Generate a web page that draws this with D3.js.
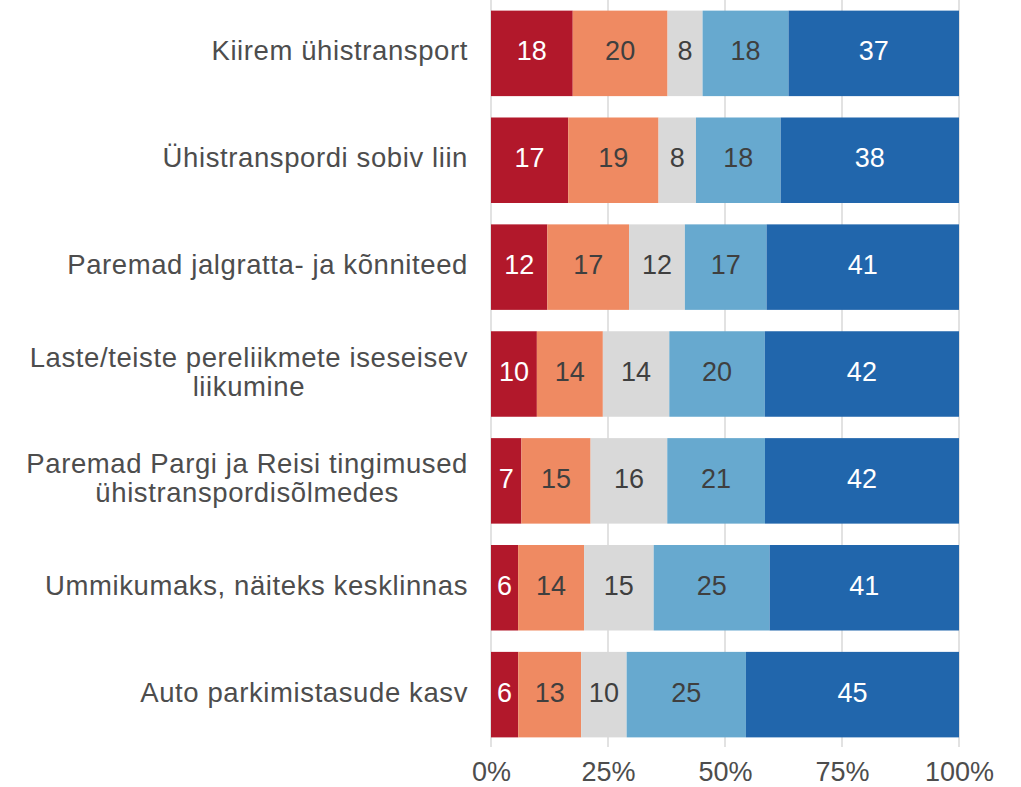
<!DOCTYPE html>
<html>
<head>
<meta charset="utf-8">
<script src="https://cdn.jsdelivr.net/npm/d3@7"></script>
<style>
    body { margin: 0; background: #fff; }
    svg { display: block; font-family: "Liberation Sans", Arial, sans-serif; }
</style>
</head>
<body>
<svg id="chart" width="1021" height="787"></svg>
<script>
// categories, top to bottom
const categories = [
    'Kiirem ühistransport',
    'Ühistranspordi sobiv liin',
    'Paremad jalgratta- ja kõnniteed',
    'Laste/teiste pereliikmete iseseisev\nliikumine',
    'Paremad Pargi ja Reisi tingimused\nühistranspordisõlmedes',
    'Ummikumaks, näiteks kesklinnas',
    'Auto parkimistasude kasv'
];

// shares per answer level (percent), left to right
const red       = [17.5, 16.5, 12.0,  9.8,  6.5,  5.8,  5.8];
const orange    = [20.3, 19.3, 17.4, 14.1, 14.8, 14.1, 13.4];
const grey      = [ 7.5,  8.0, 11.9, 14.2, 16.4, 14.9,  9.7];
const lightBlue = [18.4, 18.1, 17.4, 20.4, 20.9, 24.8, 25.4];
const darkBlue  = [36.5, 38.1, 41.0, 41.5, 41.5, 40.5, 45.4];

const tickValues = [0, 0.25, 0.5, 0.75, 1];
const tickLabels = ['0%', '25%', '50%', '75%', '100%'];

const keys = ['red', 'orange', 'grey', 'lightBlue', 'darkBlue'];
const colors = { red: '#b2182b', orange: '#ef8a62', grey: '#d9d9d9', lightBlue: '#67a9cf', darkBlue: '#2166ac' };
const textColors = { red: '#ffffff', orange: '#3f3f3f', grey: '#3f3f3f', lightBlue: '#3f3f3f', darkBlue: '#ffffff' };

const rows = categories.map((c, i) => ({
    category: c,
    red: red[i],
    orange: orange[i],
    grey: grey[i],
    lightBlue: lightBlue[i],
    darkBlue: darkBlue[i]
}));

const svg = d3.select('#chart');

const x = d3.scaleLinear()
    .domain([0, 1])
    .range([491, 959]);

const y = d3.scaleBand()
    .domain(categories)
    .range([1, 747])
    .paddingInner(0.2)
    .paddingOuter(0.09);

// grid
svg.append('g')
    .selectAll('line')
    .data(tickValues)
    .join('line')
    .attr('x1', d => x(d))
    .attr('x2', d => x(d))
    .attr('y1', 0)
    .attr('y2', 747)
    .attr('stroke', '#e2e2e2')
    .attr('stroke-width', 2);

const series = d3.stack()
    .keys(keys)
    .offset(d3.stackOffsetExpand)(rows);

let layers = svg.append('g')
    .selectAll('g')
    .data(series)
    .join('g');

layers.selectAll('rect')
    .data(s => s.map(d => ({ key: s.key, d: d })))
    .join('rect')
    .attr('x', p => x(p.d[0]))
    .attr('width', p => x(p.d[1]) - x(p.d[0]))
    .attr('y', p => y(p.d.data.category))
    .attr('height', y.bandwidth())
    .attr('fill', p => colors[p.key]);

layers.selectAll('text')
    .data(s => s.map(d => ({ key: s.key, d: d })))
    .join('text')
    .attr('x', p => (x(p.d[0]) + x(p.d[1])) / 2)
    .attr('y', p => y(p.d.data.category) + y.bandwidth() / 2 + 7)
    .attr('text-anchor', 'middle')
    .attr('font-size', 27)
    .attr('fill', p => textColors[p.key])
    .text(p => Math.round(p.d.data[p.key]));

// category labels
let catLabels = svg.append('g')
    .selectAll('text')
    .data(categories)
    .join('text')
    .attr('text-anchor', 'middle')
    .attr('font-size', 27.5)
    .attr('letter-spacing', 0.6)
    .attr('fill', '#4d4d4d');

catLabels.each(function (c) {
    let lines = c.split('\n');
    let cy = y(c) + y.bandwidth() / 2 + 7;
    let el = d3.select(this);
    lines.forEach((l, i) => {
        el.append('tspan')
            .attr('y', cy + (i - (lines.length - 1) / 2) * 29)
            .text(l);
    });
});

// right-align the block, lines centred on each other
catLabels.each(function () {
    let el = d3.select(this);
    let tspans = el.selectAll('tspan');
    let widths = [];
    tspans.each(function () { widths.push(this.getComputedTextLength()); });
    let maxW = d3.max(widths);
    tspans.attr('x', 468 - maxW / 2);
});

// x axis labels
let xAxis = d3.axisBottom(x)
    .tickValues(tickValues)
    .tickFormat((d, i) => tickLabels[i])
    .tickSize(0);

svg.append('g')
    .attr('transform', 'translate(0,760)')
    .call(xAxis)
    .call(g => g.select('.domain').remove())
    .call(g => g.selectAll('text')
        .attr('font-size', 27)
        .attr('font-family', '"Liberation Sans", Arial, sans-serif')
        .attr('fill', '#4d4d4d')
        .attr('dy', 0)
        .attr('y', 21));
</script>
</body>
</html>
